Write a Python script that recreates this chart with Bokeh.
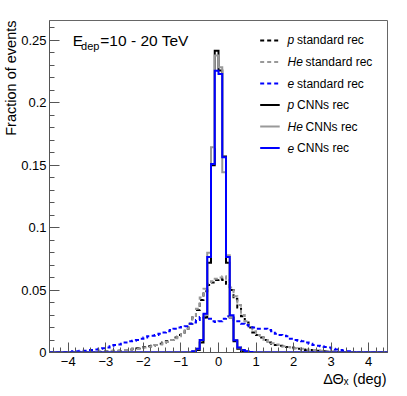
import numpy as np
from bokeh.plotting import figure
from bokeh.models import Range1d, FixedTicker, Label, Title
from bokeh.embed import file_html
from bokeh.resources import INLINE

# ---------------- data (fraction of events per 0.1 deg bin) ----------------
bin_width = 0.1
x_lo, x_hi = -4.5, 4.5
y_hi = 0.266

# standard reconstruction
p_std_start = -3.3
p_std = [
    0.0005, 0.0005, 0.001, 0.001, 0.001, 0.0015, 0.0015, 0.002, 0.002, 0.0025,
    0.003, 0.0035, 0.004, 0.0045, 0.005, 0.0055, 0.006, 0.007, 0.008, 0.009,
    0.010, 0.012, 0.014, 0.016, 0.019, 0.023, 0.028, 0.034, 0.042, 0.049,
    0.054, 0.056, 0.058, 0.059, 0.058, 0.055, 0.050, 0.043, 0.036, 0.029,
    0.024, 0.020, 0.016, 0.014, 0.012, 0.010, 0.008, 0.007, 0.006, 0.0055,
    0.005, 0.0045, 0.004, 0.0035, 0.003, 0.0025, 0.002, 0.002, 0.0015, 0.0015,
    0.001, 0.001, 0.001, 0.0005, 0.0005]

he_std_start = -3.4
he_std = [
    0.0005, 0.0005, 0.001, 0.001, 0.001, 0.0015, 0.0015, 0.0015, 0.002, 0.002,
    0.0025, 0.003, 0.003, 0.0035, 0.004, 0.0045, 0.005, 0.006, 0.0065, 0.0075,
    0.0085, 0.010, 0.0115, 0.013, 0.016, 0.019, 0.023, 0.028, 0.035, 0.044,
    0.051, 0.055, 0.057, 0.059, 0.060, 0.061, 0.058, 0.052, 0.045, 0.038,
    0.030, 0.025, 0.020, 0.017, 0.014, 0.012, 0.010, 0.0085, 0.0075, 0.0065,
    0.006, 0.005, 0.0045, 0.004, 0.0035, 0.003, 0.003, 0.0025, 0.002, 0.002,
    0.0015, 0.0015, 0.001, 0.001, 0.001, 0.0005, 0.0005]

e_std_start = -4.1
e_std = [
    0.0005, 0.0005, 0.001, 0.001, 0.0015, 0.0015, 0.002, 0.002, 0.0025, 0.003,
    0.0035, 0.004, 0.005, 0.006, 0.0065, 0.007, 0.008, 0.009, 0.0095, 0.010,
    0.011, 0.012, 0.013, 0.0135, 0.014, 0.015, 0.016, 0.017, 0.018, 0.019,
    0.020, 0.0205, 0.021, 0.023, 0.024, 0.026, 0.0285, 0.028, 0.027, 0.025,
    0.0245, 0.025, 0.027, 0.029, 0.0285, 0.026, 0.025, 0.023, 0.022, 0.021,
    0.020, 0.019, 0.019, 0.019, 0.018, 0.017, 0.015, 0.014, 0.0135, 0.013,
    0.011, 0.010, 0.0095, 0.009, 0.008, 0.007, 0.006, 0.0055, 0.005, 0.0045,
    0.004, 0.003, 0.0025, 0.002, 0.0015, 0.001, 0.0005]

# CNN reconstruction
p_cnn_start = -0.7
p_cnn = [0.0005, 0.002, 0.008, 0.028, 0.072, 0.150, 0.2418, 0.226, 0.157,
         0.072, 0.028, 0.009, 0.003, 0.001, 0.0005]

he_cnn_start = -0.8
he_cnn = [0.0005, 0.001, 0.003, 0.010, 0.030, 0.080, 0.1645, 0.238, 0.2285,
          0.1445, 0.078, 0.028, 0.010, 0.004, 0.002, 0.001, 0.0005]

e_cnn_start = -0.7
e_cnn = [0.001, 0.003, 0.010, 0.031, 0.0765, 0.151, 0.2258, 0.2232, 0.1565,
         0.0765, 0.0298, 0.0098, 0.004, 0.002, 0.001, 0.0005]

x_ticks = [-4, -3, -2, -1, 0, 1, 2, 3, 4]
x_tick_labels = ["\u22124", "\u22123", "\u22122", "\u22121", "0", "1", "2", "3", "4"]
y_ticks = [0, 0.05, 0.1, 0.15, 0.2, 0.25]
y_tick_labels = ["0", "0.05", "0.1", "0.15", "0.2", "0.25"]

x_title = "\u0394\u0398\u2093 (deg)"
y_title = "Fraction of events"
legend_names = [("p", "standard rec"), ("He", "standard rec"), ("e", "standard rec"),
                ("p", "CNNs rec"), ("He", "CNNs rec"), ("e", "CNNs rec")]

# ---------------- styles ----------------
BLACK = "#000000"
GRAY = "#999999"
BLUE = "#0000ff"
FONT = "Liberation Sans"
DASH = "4 3"

p = figure(width=407, height=396, title=None, output_backend="svg",
           toolbar_location=None,
           x_range=Range1d(x_lo, x_hi), y_range=Range1d(0, y_hi),
           min_border_left=49, min_border_right=20,
           min_border_top=20, min_border_bottom=44)
p.xgrid.visible = False
p.ygrid.visible = False
p.background_fill_color = "white"
p.border_fill_color = "white"
p.outline_line_color = "#666666"
p.outline_line_width = 1

nb = int(round((x_hi - x_lo) / bin_width))
edges = x_lo + bin_width * np.arange(nb + 1)


def full(start, vals):
    arr = np.zeros(nb)
    i0 = int(round((start - x_lo) / bin_width))
    arr[i0:i0 + len(vals)] = vals
    return arr


def step_path(vals):
    xs = np.repeat(edges, 2)[1:-1]
    ys = np.repeat(vals, 2)
    return xs, ys


series = [
    (p_std_start, p_std, BLACK, DASH),
    (he_std_start, he_std, GRAY, DASH),
    (e_std_start, e_std, BLUE, DASH),
    (p_cnn_start, p_cnn, BLACK, "solid"),
    (he_cnn_start, he_cnn, GRAY, "solid"),
    (e_cnn_start, e_cnn, BLUE, "solid"),
]
for start, vals, col, dash in series:
    xs, ys = step_path(full(start, vals))
    p.line(xs, ys, line_color=col, line_width=2, line_dash=dash,
           line_join="miter")

# ---------------- axes ----------------
x_minor = [round(v, 1) for v in np.arange(-4.4, 4.41, 0.2) if abs(v - round(v)) > 1e-6]
y_minor = [round(v, 2) for v in np.arange(0.01, 0.266, 0.01)]
p.xaxis.ticker = FixedTicker(ticks=x_ticks, minor_ticks=x_minor)
p.yaxis.ticker = FixedTicker(ticks=y_ticks, minor_ticks=y_minor)
p.xaxis.major_label_overrides = dict(zip(x_ticks, x_tick_labels))
p.yaxis.major_label_overrides = dict(zip(y_ticks, y_tick_labels))

for ax in (p.xaxis, p.yaxis):
    ax.axis_line_color = "#555555"
    ax.major_tick_line_color = "#555555"
    ax.minor_tick_line_color = "#555555"
    ax.major_tick_in = 10
    ax.major_tick_out = 0
    ax.minor_tick_in = 5
    ax.minor_tick_out = 0
    ax.major_label_text_font = FONT
    ax.major_label_text_font_size = "13px"
    ax.major_label_text_color = "#000000"
p.xaxis.major_label_standoff = 4
p.yaxis.major_label_standoff = 3

# axis titles as side-panel titles (right / top aligned as in the original)
p.add_layout(Title(text=x_title, align="right", text_font=FONT,
                   text_font_size="14.5px", text_font_style="normal",
                   text_color="black", standoff=0, offset=1), "below")
p.add_layout(Title(text=y_title, align="right", text_font=FONT,
                   text_font_size="14.5px", text_font_style="normal",
                   text_color="black", standoff=0, offset=0), "left")

# energy label
p.add_layout(Label(x=-3.88, y=0.2502, text="E", text_align="left",
                   text_baseline="alphabetic", text_font=FONT,
                   text_font_size="15.5px", text_color="black"))
p.add_layout(Label(x=-3.66, y=0.2454, text="dep", text_align="left",
                   text_baseline="alphabetic", text_font=FONT,
                   text_font_size="11px", text_color="black"))
p.add_layout(Label(x=-3.147, y=0.2502, text="=10 - 20 TeV", text_align="left",
                   text_baseline="alphabetic", text_font=FONT,
                   text_font_size="15.5px", text_color="black"))

# legend
leg_y0 = 0.2500
leg_dy = 0.01725
leg_x0, leg_x1 = 1.11, 1.63
leg_tx = 1.84
ital_w = {"p": 9.5, "He": 18.0, "e": 9.5}
for i, ((name, rest), (_, _, col, dash)) in enumerate(zip(legend_names, series)):
    yy = leg_y0 - i * leg_dy
    p.segment(x0=[leg_x0], y0=[yy], x1=[leg_x1], y1=[yy], line_color=col,
              line_width=2, line_dash=dash)
    p.add_layout(Label(x=leg_tx, y=yy, text=name, text_align="left",
                       text_baseline="middle", text_font=FONT,
                       text_font_style="italic", text_font_size="12px",
                       text_color="black"))
    p.add_layout(Label(x=leg_tx, y=yy, x_offset=ital_w[name], text=rest,
                       text_align="left", text_baseline="middle", text_font=FONT,
                       text_font_size="12px", text_color="black"))

open("out.html", "w").write(file_html(p, INLINE))
